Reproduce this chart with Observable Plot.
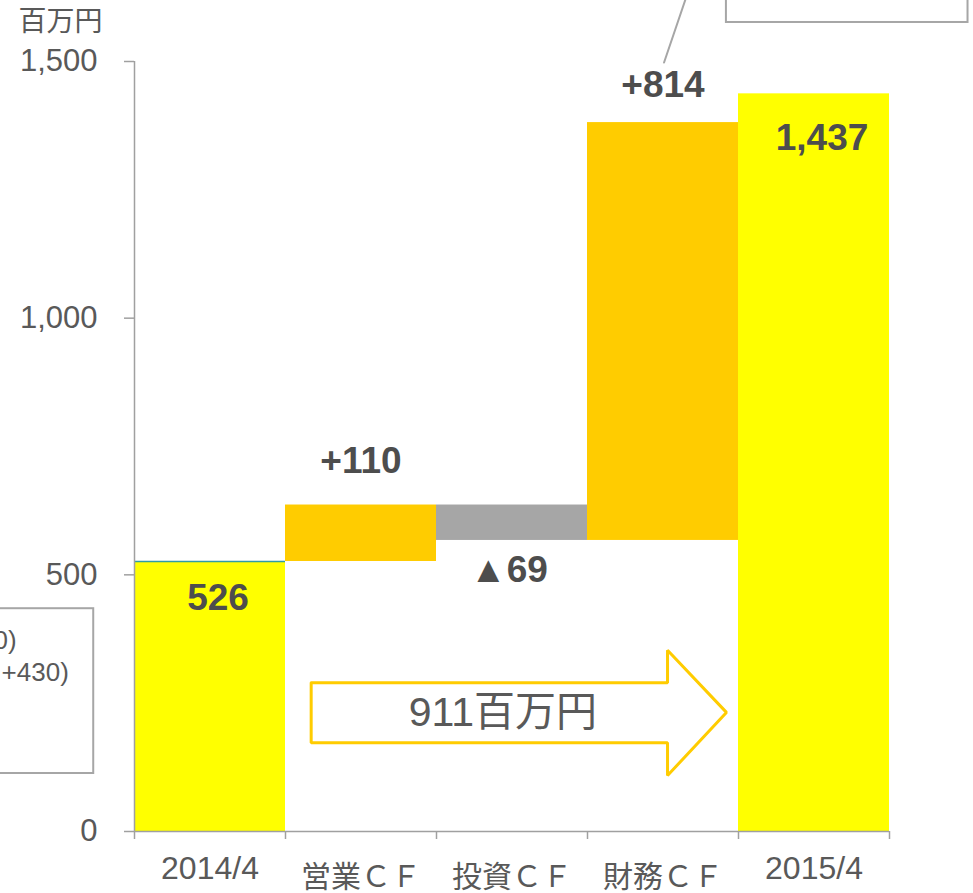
<!DOCTYPE html>
<html><head><meta charset="utf-8">
<script src="https://cdn.jsdelivr.net/npm/d3@7"></script>
<script src="https://cdn.jsdelivr.net/npm/@observablehq/plot@0.6"></script>
<style>
html,body{margin:0;padding:0;background:#fff;overflow:hidden;}
#chart svg{display:block;}
</style></head>
<body><div id="chart"></div>
<script>
// ---- data ----
const categories = ["2014/4", "営業ＣＦ", "投資ＣＦ", "財務ＣＦ", "2015/4"];
const values = [526, 110, -69, 814, 1437];
const kinds = ["total", "up", "down", "up", "total"];
const valueLabels = ["526", "+110", "▲69", "+814", "1,437"];
const yTicks = [0, 500, 1000, 1500];
const unitLabel = "百万円";
const arrowLabel = "911百万円";
// arrow annotation outline (category index, 百万円)
const arrowX = [1.17, 3.53, 3.53, 3.92, 3.53, 3.53, 1.17, 1.17];
const arrowY = [290, 290, 353, 232, 109, 173, 173, 290];
// partially visible callouts
const leftBoxText = ["0)", "+430)"];

const colors = {total: "#FFFF00", up: "#FFCC00", down: "#A6A6A6"};

// build waterfall table
let run = 0;
const bars = categories.map((c, i) => {
  let y1, y2;
  if (kinds[i] === "total") { y1 = 0; y2 = values[i]; run = values[i]; }
  else { y1 = run; y2 = run + values[i]; run = y2; }
  return {i, c, y1, y2, kind: kinds[i], label: valueLabels[i]};
});
const arrow = arrowX.map((x, k) => ({x, y: arrowY[k]}));

const FONT = "'Liberation Sans', Arial, 'Noto Sans CJK JP', sans-serif";
const TXT = "#595959";

const labelMarks = bars.map(b => {
  let y, dy, dx = 0;
  if (b.kind === "total") { y = b.y2; dy = b.i === 0 ? 37 : 44; dx = 8; }
  else if (b.kind === "up") { y = b.y2; dy = b.i === 1 ? -44 : -37; }
  else { y = b.y2; dy = 30; dx = -3; }
  return Plot.text([b], {x: d => d.i + 0.5, y: () => y, text: "label", dx, dy,
    fontSize: 37, fontWeight: "bold", fill: "#4D4D4D", lineAnchor: "middle"});
});

const chart = Plot.plot({
  width: 973, height: 893,
  marginTop: 61, marginBottom: 62, marginLeft: 134, marginRight: 84,
  style: {fontFamily: FONT, background: "white"},
  x: {type: "linear", domain: [0, categories.length]},
  y: {domain: [0, 1500]},
  marks: [
    // callouts (cut off at the edges)
    Plot.rect([0], {x1: -1.3, x2: -0.27, y1: 113, y2: 434, fill: "white", stroke: "#A6A6A6", strokeWidth: 2}),
    Plot.text(leftBoxText, {x: [-0.78, -0.435], y: [372, 310], text: d => d, textAnchor: "end",
      fontSize: 26, fill: TXT, lineAnchor: "middle"}),
    Plot.rect([0], {x1: 3.92, x2: 5.52, y1: 1576, y2: 1760, fill: "white", stroke: "#A6A6A6", strokeWidth: 2}),
    Plot.line([{x: 3.65, y: 1622}, {x: 3.507, y: 1498}], {x: "x", y: "y", stroke: "#A6A6A6", strokeWidth: 2}),
    // bars
    Plot.rect(bars, {x1: d => d.i, x2: d => d.i + 1, y1: "y1", y2: "y2", fill: d => colors[d.kind]}),
    Plot.ruleY([values[0]], {x1: 0, x2: 1, stroke: "#2E9CA6", strokeWidth: 1.5}),
    // axes
    Plot.ruleX([0], {y1: 0, y2: 1500, stroke: "#A0A0A0", strokeWidth: 1.5}),
    Plot.ruleY([0], {stroke: "#A0A0A0", strokeWidth: 1.5}),
    Plot.axisY({ticks: yTicks, tickFormat: d3.format(","), tickSize: 10, tickPadding: 27,
      fontSize: 31, fill: TXT, stroke: "#A0A0A0", strokeWidth: 1.5, label: null}),
    Plot.axisX({ticks: d3.range(categories.length + 1), tickFormat: () => "", tickSize: 8,
      stroke: "#A0A0A0", strokeWidth: 1.5, label: null}),
    Plot.text(bars.filter(b => b.kind === "total"), {x: d => d.i + 0.5, y: () => 0, text: "c", dy: 37,
      fontSize: 32, fill: TXT, lineAnchor: "middle"}),
    Plot.text(bars.filter(b => b.kind !== "total"), {x: d => d.i + 0.5, y: () => 0, text: "c", dy: 46,
      fontSize: 30, fill: TXT, lineAnchor: "middle"}),
    Plot.text([unitLabel], {x: () => 0, y: () => 1500, text: d => d, dx: -116, dy: -39, textAnchor: "start",
      fontSize: 28, fill: TXT, lineAnchor: "middle"}),
    // arrow annotation
    Plot.line(arrow, {x: "x", y: "y", stroke: "#FFCC00", strokeWidth: 3, fill: "white", strokeLinejoin: "miter"}),
    Plot.text([arrowLabel], {x: () => 2.44, y: () => 232, text: d => d, fontSize: 41, fill: TXT, lineAnchor: "middle"}),
    ...labelMarks
  ]
});
document.getElementById("chart").appendChild(chart);
</script>
</body></html>
